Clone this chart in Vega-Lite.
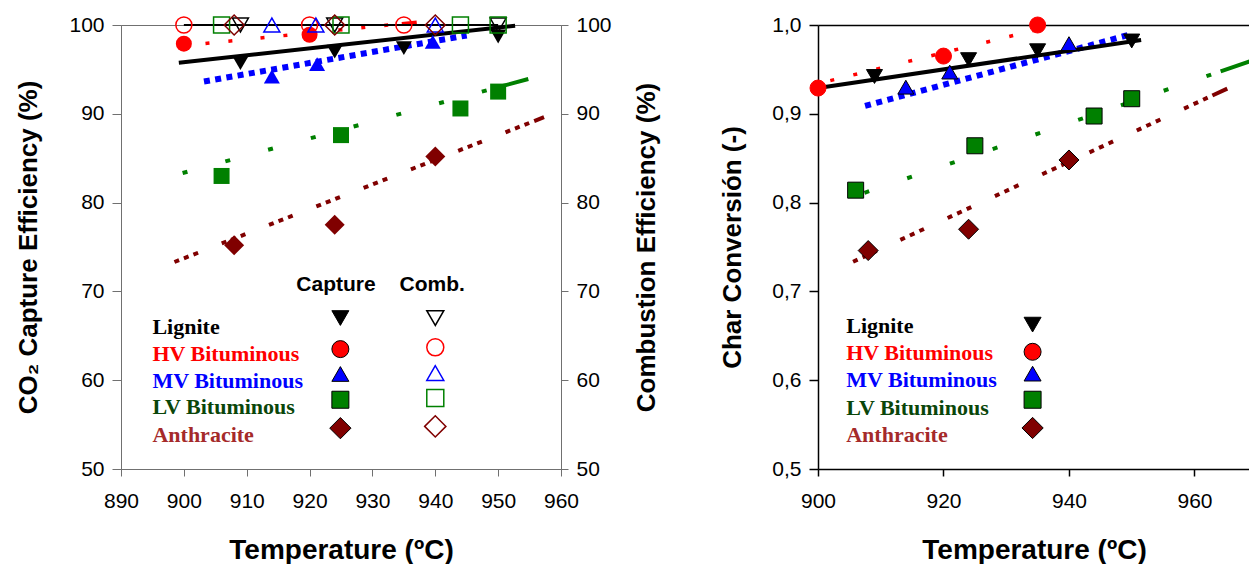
{
  "$schema": "https://vega.github.io/schema/vega-lite/v6.json",
  "padding": {"left": 15, "top": 11, "right": 0, "bottom": 0},
  "background": "white",
  "bounds": "flush",
  "spacing": 257,
  "datasets": {
    "linesL": [
      {"coal": "Lignite", "T": 899.2, "v": 95.75}, {"coal": "Lignite", "T": 952.7, "v": 99.92},
      {"coal": "HV", "T": 899.8, "v": 97.66}, {"coal": "HV", "T": 937.25, "v": 100.33},
      {"coal": "MV", "T": 903.2, "v": 93.64}, {"coal": "MV", "T": 945.0, "v": 98.82},
      {"coal": "LV", "T": 899.8, "v": 83.33}, {"coal": "LV", "T": 954.8, "v": 93.92},
      {"coal": "Anthracite", "T": 898.5, "v": 73.31}, {"coal": "Anthracite", "T": 957.3, "v": 89.62},
      {"coal": "Comb", "T": 900, "v": 100}, {"coal": "Comb", "T": 950, "v": 100}
    ],
    "capL": [
      {"coal": "Lignite", "T": 909, "v": 95.7}, {"coal": "Lignite", "T": 924, "v": 97.0}, {"coal": "Lignite", "T": 935, "v": 97.4}, {"coal": "Lignite", "T": 950, "v": 98.7},
      {"coal": "HV", "T": 900, "v": 97.9}, {"coal": "HV", "T": 920, "v": 98.9},
      {"coal": "MV", "T": 914, "v": 94.2}, {"coal": "MV", "T": 921.2, "v": 95.6}, {"coal": "MV", "T": 939.6, "v": 98.1},
      {"coal": "LV", "T": 906, "v": 83.0}, {"coal": "LV", "T": 925, "v": 87.6}, {"coal": "LV", "T": 944, "v": 90.6}, {"coal": "LV", "T": 950, "v": 92.5},
      {"coal": "Anthracite", "T": 908, "v": 75.2}, {"coal": "Anthracite", "T": 924, "v": 77.5}, {"coal": "Anthracite", "T": 940, "v": 85.2}
    ],
    "combL": [
      {"coal": "Lignite", "T": 909, "v": 100}, {"coal": "Lignite", "T": 924, "v": 100}, {"coal": "Lignite", "T": 950, "v": 100},
      {"coal": "HV", "T": 900, "v": 100}, {"coal": "HV", "T": 920, "v": 100}, {"coal": "HV", "T": 935, "v": 100},
      {"coal": "MV", "T": 914, "v": 100}, {"coal": "MV", "T": 921, "v": 100}, {"coal": "MV", "T": 940, "v": 100},
      {"coal": "LV", "T": 906, "v": 100}, {"coal": "LV", "T": 925, "v": 100}, {"coal": "LV", "T": 944, "v": 100}, {"coal": "LV", "T": 950, "v": 100},
      {"coal": "Anthracite", "T": 908, "v": 100}, {"coal": "Anthracite", "T": 924, "v": 100}, {"coal": "Anthracite", "T": 940, "v": 100}
    ],
    "legLtext": [
      {"coal": "Lignite", "label": "Lignite", "T": 895, "v": 66.0},
      {"coal": "HV", "label": "HV Bituminous", "T": 895, "v": 62.95},
      {"coal": "MV", "label": "MV Bituminous", "T": 895, "v": 59.95},
      {"coal": "LV", "label": "LV Bituminous", "T": 895, "v": 56.95},
      {"coal": "Anthracite", "label": "Anthracite", "T": 895, "v": 53.85}
    ],
    "hdrL": [
      {"label": "Capture", "T": 924.2, "v": 70.7},
      {"label": "Comb.", "T": 939.5, "v": 70.7}
    ],
    "legLcap": [
      {"coal": "Lignite", "T": 924.9, "v": 67.0}, {"coal": "HV", "T": 924.9, "v": 63.5},
      {"coal": "MV", "T": 924.9, "v": 60.7}, {"coal": "LV", "T": 924.9, "v": 57.8},
      {"coal": "Anthracite", "T": 924.9, "v": 54.6}
    ],
    "legLcomb": [
      {"coal": "Lignite", "T": 940, "v": 67.0}, {"coal": "HV", "T": 940, "v": 63.7},
      {"coal": "MV", "T": 940, "v": 60.8}, {"coal": "LV", "T": 940, "v": 58.0},
      {"coal": "Anthracite", "T": 940, "v": 54.8}
    ],
    "linesR": [
      {"coal": "Lignite", "T": 900, "v": 0.929}, {"coal": "Lignite", "T": 951.5, "v": 0.983},
      {"coal": "HV", "T": 901.96, "v": 0.9374}, {"coal": "HV", "T": 934.95, "v": 0.9948},
      {"coal": "MV", "T": 907.5, "v": 0.9089}, {"coal": "MV", "T": 949.34, "v": 0.9885},
      {"coal": "LV", "T": 907.4, "v": 0.811}, {"coal": "LV", "T": 970, "v": 0.9619},
      {"coal": "Anthracite", "T": 905.59, "v": 0.7334}, {"coal": "Anthracite", "T": 965.23, "v": 0.9284}
    ],
    "capR": [
      {"coal": "Lignite", "T": 909, "v": 0.942}, {"coal": "Lignite", "T": 924, "v": 0.961}, {"coal": "Lignite", "T": 935, "v": 0.971}, {"coal": "Lignite", "T": 950, "v": 0.982},
      {"coal": "HV", "T": 900, "v": 0.929}, {"coal": "HV", "T": 920, "v": 0.965}, {"coal": "HV", "T": 935, "v": 1.0},
      {"coal": "MV", "T": 914, "v": 0.930}, {"coal": "MV", "T": 921, "v": 0.947}, {"coal": "MV", "T": 940, "v": 0.979},
      {"coal": "LV", "T": 906, "v": 0.814}, {"coal": "LV", "T": 925, "v": 0.864}, {"coal": "LV", "T": 944, "v": 0.8975}, {"coal": "LV", "T": 950, "v": 0.917},
      {"coal": "Anthracite", "T": 908, "v": 0.746}, {"coal": "Anthracite", "T": 924, "v": 0.770}, {"coal": "Anthracite", "T": 940, "v": 0.848}
    ],
    "legRtext": [
      {"coal": "Lignite", "label": "Lignite", "T": 904.5, "v": 0.6607},
      {"coal": "HV", "label": "HV Bituminous", "T": 904.5, "v": 0.6308},
      {"coal": "MV", "label": "MV Bituminous", "T": 904.5, "v": 0.600},
      {"coal": "LV", "label": "LV Bituminous", "T": 904.5, "v": 0.5688},
      {"coal": "Anthracite", "label": "Anthracite", "T": 904.5, "v": 0.5387}
    ],
    "legRcap": [
      {"coal": "Lignite", "T": 934.2, "v": 0.6626}, {"coal": "HV", "T": 934.2, "v": 0.632},
      {"coal": "MV", "T": 934.2, "v": 0.6074}, {"coal": "LV", "T": 934.2, "v": 0.578},
      {"coal": "Anthracite", "T": 934.2, "v": 0.5462}
    ]
  },
  "hconcat": [
    {
      "width": 440,
      "height": 444,
      "view": {"stroke": "#707070", "strokeWidth": 1},
      "encoding": {
        "x": {"field": "T", "type": "quantitative",
          "scale": {"domain": [890, 960], "nice": false, "zero": false},
          "axis": {"values": [890, 900, 910, 920, 930, 940, 950, 960], "title": "Temperature (ºC)", "titleFontSize": 28,
            "domainColor": "#707070", "tickColor": "#707070", "tickSize": 7, "labelPadding": 14, "titlePadding": 25}}
      },
      "layer": [
        {
          "encoding": {
            "y": {"field": "v", "type": "quantitative",
              "scale": {"domain": [50, 100], "nice": false, "zero": false},
              "axis": {"values": [50, 60, 70, 80, 90, 100], "title": "CO₂ Capture Efficiency (%)",
                "domainColor": "#707070", "tickColor": "#707070", "tickSize": 9, "labelPadding": 8, "titlePadding": 27}}
          },
          "layer": [
            {"data": {"name": "linesL"}, "transform": [{"filter": "datum.coal === 'Anthracite'"}],
             "mark": {"type": "line", "color": "#800000", "strokeWidth": 4,
               "strokeDash": [5,5.2,5,5.2,5,25.4,5,5.2,5,5.2,5,25.4,5,5.2,5,5.2,5,25.4,5,5.2,5,5.2,5,25.4,5,5.2,5,5.2,5,25.4,5,5.2,5,5.2,5,25.4,5,5.2,5,5.2,5,25.4,5,5.2,5,5.2,5,5.4,12,50]},
             "encoding": {}},
            {"data": {"name": "linesL"}, "transform": [{"filter": "datum.coal === 'LV'"}],
             "mark": {"type": "line", "color": "#008000", "strokeWidth": 4,
               "strokeDash": [5,39.3,5,39.3,5,39.3,5,39.3,5,39.3,5,39.3,5,39.3,5,14.9,40,50]},
             "encoding": {}},
            {"data": {"name": "linesL"}, "transform": [{"filter": "datum.coal === 'MV'"}],
             "mark": {"type": "line", "color": "#0000ff", "strokeWidth": 6, "strokeDash": [6, 5.37]},
             "encoding": {}},
            {"data": {"name": "linesL"}, "transform": [{"filter": "datum.coal === 'HV'"}],
             "mark": {"type": "line", "color": "#ff0000", "strokeWidth": 3.5,
               "strokeDash": [4,19,4,19,4,28.3,4,19,4,19,4,28.3,4,19,4,19,4,13.7,15,50]},
             "encoding": {}},
            {"data": {"name": "linesL"}, "transform": [{"filter": "datum.coal === 'Lignite'"}],
             "mark": {"type": "line", "color": "#000000", "strokeWidth": 4},
             "encoding": {}},
            {"data": {"name": "linesL"}, "transform": [{"filter": "datum.coal === 'Comb'"}],
             "mark": {"type": "line", "color": "#000000", "strokeWidth": 2},
             "encoding": {}},
            {"data": {"name": "capL"},
             "mark": {"type": "point", "filled": true, "opacity": 1, "strokeWidth": 0, "size": 256},
             "encoding": {
               "shape": {"field": "coal", "type": "nominal", "legend": null,
                 "scale": {"domain": ["Lignite", "HV", "MV", "LV", "Anthracite"], "range": ["triangle-down", "circle", "triangle-up", "square", "M-1.25,0L0,-1.25L1.25,0L0,1.25Z"]}},
               "fill": {"field": "coal", "type": "nominal", "legend": null,
                 "scale": {"domain": ["Lignite", "HV", "MV", "LV", "Anthracite"], "range": ["#000000", "#ff0000", "#0000ff", "#008000", "#800000"]}}
             }},
            {"data": {"name": "legLtext"},
             "mark": {"type": "text", "align": "left", "baseline": "middle", "font": "Liberation Serif", "fontWeight": "bold", "fontSize": 22},
             "encoding": {
               "text": {"field": "label"},
               "color": {"field": "coal", "type": "nominal", "legend": null,
                 "scale": {"domain": ["Lignite", "HV", "MV", "LV", "Anthracite"], "range": ["#000000", "#ff0000", "#0000ff", "#0a460a", "#a52a2a"]}}
             }},
            {"data": {"name": "hdrL"},
             "mark": {"type": "text", "align": "center", "baseline": "middle", "font": "Liberation Sans", "fontWeight": "bold", "fontSize": 21, "color": "#000000"},
             "encoding": {"text": {"field": "label"}}},
            {"data": {"name": "legLcap"},
             "mark": {"type": "point", "filled": true, "opacity": 1, "stroke": "#000000", "strokeWidth": 1, "size": 289},
             "encoding": {
               "shape": {"field": "coal", "type": "nominal", "legend": null,
                 "scale": {"domain": ["Lignite", "HV", "MV", "LV", "Anthracite"], "range": ["triangle-down", "circle", "triangle-up", "square", "M-1.25,0L0,-1.25L1.25,0L0,1.25Z"]}},
               "fill": {"field": "coal", "type": "nominal", "legend": null,
                 "scale": {"domain": ["Lignite", "HV", "MV", "LV", "Anthracite"], "range": ["#000000", "#ff0000", "#0000ff", "#008000", "#800000"]}}
             }},
            {"data": {"name": "legLcomb"},
             "mark": {"type": "point", "filled": false, "opacity": 1, "strokeWidth": 1.5, "size": 289},
             "encoding": {
               "shape": {"field": "coal", "type": "nominal", "legend": null,
                 "scale": {"domain": ["Lignite", "HV", "MV", "LV", "Anthracite"], "range": ["triangle-down", "circle", "triangle-up", "square", "M-1.25,0L0,-1.25L1.25,0L0,1.25Z"]}},
               "stroke": {"field": "coal", "type": "nominal", "legend": null,
                 "scale": {"domain": ["Lignite", "HV", "MV", "LV", "Anthracite"], "range": ["#000000", "#ff0000", "#0000ff", "#008000", "#800000"]}}
             }}
          ]
        },
        {
          "data": {"name": "combL"},
          "mark": {"type": "point", "filled": false, "opacity": 1, "strokeWidth": 1.5, "size": 256},
          "encoding": {
            "y": {"field": "v", "type": "quantitative",
              "scale": {"domain": [50, 100], "nice": false, "zero": false},
              "axis": {"orient": "right", "values": [50, 60, 70, 80, 90, 100], "title": "Combustion Efficiency (%)", "titleAngle": 270,
                "domainColor": "#707070", "tickColor": "#707070", "tickSize": 7, "labelPadding": 8, "titlePadding": 48}},
            "shape": {"field": "coal", "type": "nominal", "legend": null,
              "scale": {"domain": ["Lignite", "HV", "MV", "LV", "Anthracite"], "range": ["triangle-down", "circle", "triangle-up", "square", "M-1.25,0L0,-1.25L1.25,0L0,1.25Z"]}},
            "stroke": {"field": "coal", "type": "nominal", "legend": null,
              "scale": {"domain": ["Lignite", "HV", "MV", "LV", "Anthracite"], "range": ["#000000", "#ff0000", "#0000ff", "#008000", "#800000"]}}
          }
        }
      ],
      "resolve": {"axis": {"y": "independent"}}
    },
    {
      "width": 432,
      "height": 444,
      "view": {"stroke": null},
      "encoding": {
        "y": {"field": "v", "type": "quantitative",
          "scale": {"domain": [0.5, 1.0], "nice": false, "zero": false},
          "axis": {"values": [0.5, 0.6, 0.7, 0.8, 0.9, 1.0], "labelExpr": "replace(format(datum.value, '.1f'), '.', ',')",
            "title": "Char Conversión (-)", "domainColor": "#000000", "tickColor": "#000000", "domainWidth": 1.5, "tickWidth": 1.5,
            "tickSize": 9, "labelPadding": 8, "titlePadding": 26}}
      },
      "layer": [
        {
          "encoding": {
            "x": {"field": "T", "type": "quantitative",
              "scale": {"domain": [900, 968.85], "nice": false, "zero": false},
              "axis": {"values": [900, 920, 940, 960], "title": "Temperature (ºC)", "titleFontSize": 28,
                "domainColor": "#000000", "tickColor": "#000000", "domainWidth": 1.5, "tickWidth": 1.5, "tickSize": 7, "labelPadding": 14, "titlePadding": 25}}
          },
          "layer": [
            {"data": {"name": "linesR"}, "transform": [{"filter": "datum.coal === 'Anthracite'"}],
             "mark": {"type": "line", "color": "#800000", "strokeWidth": 4, "clip": true,
               "strokeDash": [5,5.5,5,5.5,5,26.1,5,5.5,5,5.5,5,26.1,5,5.5,5,5.5,5,26.1,5,5.5,5,5.5,5,26.1,5,5.5,5,5.5,5,26.1,5,5.5,5,5.5,5,26.1,5,5.5,5,5.5,5,26.1,5,5.5,5,5.5,5,5.2,20,50]},
             "encoding": {}},
            {"data": {"name": "linesR"}, "transform": [{"filter": "datum.coal === 'LV'"}],
             "mark": {"type": "line", "color": "#008000", "strokeWidth": 4, "clip": true,
               "strokeDash": [5,40.17,5,40.17,5,40.17,5,40.17,5,40.17,5,40.17,5,40.17,5,40.17,5,10,100,10]},
             "encoding": {}},
            {"data": {"name": "linesR"}, "transform": [{"filter": "datum.coal === 'MV'"}],
             "mark": {"type": "line", "color": "#0000ff", "strokeWidth": 6, "strokeDash": [6, 5.56]},
             "encoding": {}},
            {"data": {"name": "linesR"}, "transform": [{"filter": "datum.coal === 'HV'"}],
             "mark": {"type": "line", "color": "#ff0000", "strokeWidth": 3.5, "strokeDash": [4,19.7,4,19.7,4,28.9]},
             "encoding": {}},
            {"data": {"name": "linesR"}, "transform": [{"filter": "datum.coal === 'Lignite'"}],
             "mark": {"type": "line", "color": "#000000", "strokeWidth": 4},
             "encoding": {}},
            {"data": {"name": "capR"},
             "mark": {"type": "point", "filled": true, "opacity": 1, "strokeWidth": 1, "size": 256},
             "encoding": {
               "stroke": {"condition": {"test": "datum.coal === 'HV'", "value": "#ff0000"}, "value": "#000000"},
               "shape": {"field": "coal", "type": "nominal", "legend": null,
                 "scale": {"domain": ["Lignite", "HV", "MV", "LV", "Anthracite"], "range": ["triangle-down", "circle", "triangle-up", "square", "M-1.25,0L0,-1.25L1.25,0L0,1.25Z"]}},
               "fill": {"field": "coal", "type": "nominal", "legend": null,
                 "scale": {"domain": ["Lignite", "HV", "MV", "LV", "Anthracite"], "range": ["#000000", "#ff0000", "#0000ff", "#008000", "#800000"]}}
             }},
            {"data": {"name": "legRtext"},
             "mark": {"type": "text", "align": "left", "baseline": "middle", "font": "Liberation Serif", "fontWeight": "bold", "fontSize": 22},
             "encoding": {
               "text": {"field": "label"},
               "color": {"field": "coal", "type": "nominal", "legend": null,
                 "scale": {"domain": ["Lignite", "HV", "MV", "LV", "Anthracite"], "range": ["#000000", "#ff0000", "#0000ff", "#0a460a", "#a52a2a"]}}
             }}
          ]
        },
        {
          "data": {"name": "legRcap"},
          "mark": {"type": "point", "filled": true, "opacity": 1, "stroke": "#000000", "strokeWidth": 1, "size": 289},
          "encoding": {
            "x": {"field": "T", "type": "quantitative",
              "scale": {"domain": [900, 968.85], "nice": false, "zero": false},
              "axis": {"orient": "top", "labels": false, "ticks": false, "title": null, "domainColor": "#000000", "domainWidth": 1.5}},
            "shape": {"field": "coal", "type": "nominal", "legend": null,
              "scale": {"domain": ["Lignite", "HV", "MV", "LV", "Anthracite"], "range": ["triangle-down", "circle", "triangle-up", "square", "M-1.25,0L0,-1.25L1.25,0L0,1.25Z"]}},
            "fill": {"field": "coal", "type": "nominal", "legend": null,
              "scale": {"domain": ["Lignite", "HV", "MV", "LV", "Anthracite"], "range": ["#000000", "#ff0000", "#0000ff", "#008000", "#800000"]}}
          }
        }
      ],
      "resolve": {"axis": {"x": "independent"}}
    }
  ],
  "resolve": {"scale": {"x": "independent", "y": "independent"}},
  "config": {
    "view": {"stroke": null},
    "axis": {
      "grid": false,
      "labelFont": "Liberation Sans", "labelFontSize": 21, "labelColor": "#000000",
      "titleFont": "Liberation Sans", "titleFontSize": 26, "titleFontWeight": "bold", "titleColor": "#000000",
      "labelFlush": false, "labelOverlap": false
    }
  }
}
